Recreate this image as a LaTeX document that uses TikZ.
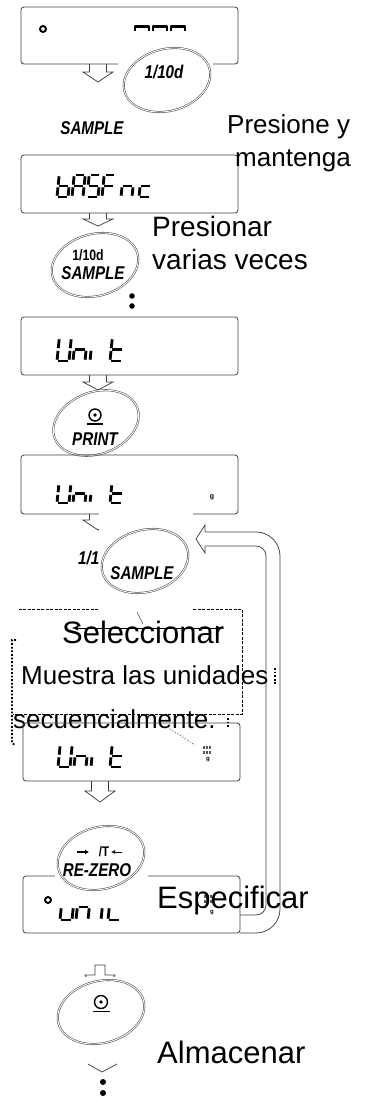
\documentclass[tikz,border=0pt]{standalone}
\usepackage{fontspec}
\setmainfont{Liberation Sans}
\newfontfamily\keyfont[FakeStretch=0.82]{Liberation Sans}
\usetikzlibrary{shapes.geometric,arrows.meta}

\newcommand\sdig[5]{%
  \begin{scope}[shift={(#1,#2)},x=1pt,y=1pt,xslant=0.1]
    \pgfmathsetmacro\dW{#3}\pgfmathsetmacro\dH{#4}\pgfmathsetmacro\dM{#4/2}\def\dG{1.3}%
    \foreach \s in {#5}{%
      \if\s a\draw[seg] (\dG,\dH)--(\dW-\dG,\dH);\fi
      \if\s b\draw[seg] (\dW,\dH-\dG)--(\dW,\dM+\dG);\fi
      \if\s c\draw[seg] (\dW,\dM-\dG)--(\dW,\dG);\fi
      \if\s d\draw[seg] (\dG,0)--(\dW-\dG,0);\fi
      \if\s e\draw[seg] (0,\dG)--(0,\dM-\dG);\fi
      \if\s f\draw[seg] (0,\dM+\dG)--(0,\dH-\dG);\fi
      \if\s g\draw[seg] (\dG,\dM)--(\dW-\dG,\dM);\fi
    }%
  \end{scope}}
\newcommand\harrow[4]{%
  \draw[hollow] (#1-8.5,#2)--(#1-8.5,#2+#3)--(#1-15,#2+#3)--(#1,#2+#4)--(#1+15,#2+#3)--(#1+8.5,#2+#3)--(#1+8.5,#2);}
\newcommand\umarks[2]{%
  \foreach \i in {0,3,6}{\fill[black!65] (#1+\i,#2) rectangle ++(2,3); \fill[black!65] (#1+\i,#2+4.5) rectangle ++(2,3);}}
\newcommand\unitsym[3]{% x y r
  \draw[line width=1.4pt] (#1,#2) circle[radius=#3 pt];
  \fill (#1,#2) circle[radius=1.9pt];
  \draw[line width=1.3pt] (#1-#3-2,#2+#3+3)--(#1+#3+2,#2+#3+3);}

\begin{document}
\begin{tikzpicture}[x=1pt,y=-1pt,
  disp/.style={rectangle, draw=black!75, line width=0.8pt, rounded corners=3pt, inner sep=0pt, minimum width=217pt},
  seg/.style={line width=2.8pt, line cap=butt, black},
  hollow/.style={draw=black!75, line width=0.75pt},
  keyell/.style={ellipse, draw=black!70, line width=0.55pt, double=white, double distance=0.9pt, fill=white, inner sep=0pt, minimum width=88pt, minimum height=62pt},
  keytxt/.style={font=\keyfont\bfseries\itshape\fontsize{18.5}{18.5}\selectfont, inner sep=0pt},
  mask/.style={fill=white, draw=none},
  lbla/.style={font=\fontsize{26}{30}\selectfont, inner sep=0pt, anchor=base west},
  lblb/.style={font=\fontsize{28}{32}\selectfont, inner sep=0pt, anchor=base west},
  lblc/.style={font=\fontsize{31}{35}\selectfont, inner sep=0pt, anchor=base west},
  dashA/.style={line width=0.8pt, dash pattern=on 3pt off 1.5pt},
  dotB/.style={line width=1.8pt, dash pattern=on 1.8pt off 1.8pt}]
\useasboundingbox (0,0) rectangle (366,1097);
\fill[white] (0,0) rectangle (366,1097);

% ---------- displays ----------
\node[disp, minimum height=57pt] (d1) at (129.5,35.5) {};
\draw[line width=1.9pt] (43,29) circle[radius=3pt];
\foreach \cx in {135,153,171}{\draw[seg, line join=round] (\cx,31)--(\cx,26.4)--(\cx+14,26.4)--(\cx+14,31);}

\node[disp, minimum height=58pt] (d2) at (129.5,184) {};
\sdig{57}{197}{11}{22}{f,e,d,c,g}
\sdig{72}{197}{11}{22}{a,b,c,e,f,g}
\sdig{87}{197}{11}{22}{a,f,g,c,d}
\sdig{102}{197}{11}{22}{a,f,e,g}
\sdig{121}{197}{11}{22}{g,e,c}
\sdig{139}{197}{11}{22}{g,e,d}

\node[disp, minimum height=58pt] (d3) at (129.5,346) {};
\sdig{57}{361}{12}{23}{b,c,d,e,f}
\sdig{73}{361}{12}{23}{g,e,c}
\sdig{90}{361}{12}{23}{e}
\sdig{110}{361}{12}{23}{f,e,d,g}

% ---------- arrows 1-3 ----------
\coordinate (a1) at (98,64);
\harrow{98}{64}{8}{18}
\coordinate (a2) at (98,213);
\harrow{98}{213}{6}{13}
\coordinate (a3) at (98,375);
\harrow{98}{375}{7}{15}

% ---------- key 1 ----------
\fill[mask] (118,50) rectangle (213,117);
\node[keyell, rotate=15] (k1) at (167,80) {};
\node[keytxt] (k1t) at (164,72) {1/10d};
\node[keytxt] (s1) at (92,128) {SAMPLE};

% ---------- key 2 ----------
\node[keyell, rotate=15] (k2) at (95,265) {};
\node[keytxt, font=\keyfont\bfseries\fontsize{15}{15}\selectfont] (k2a) at (88,255) {1/10d};
\node[keytxt] (k2b) at (93,273) {SAMPLE};
\fill (132,296) circle[radius=2.8pt];
\fill (132,306) circle[radius=2.8pt];

% ---------- key 3 ----------
\node[keyell, rotate=20] (k3) at (96,423) {};
\unitsym{95}{415}{6}
\node[keytxt] (k3t) at (95,439) {PRINT};

\node[disp, minimum height=59pt] (d4) at (129.5,484.5) {};
\sdig{57}{503}{12}{19}{b,c,d,e,f}
\sdig{73}{503}{12}{19}{g,e,c}
\sdig{90}{503}{12}{19}{e}
\sdig{110}{503}{12}{19}{f,e,d,g}
\node[inner sep=0pt, font=\bfseries\fontsize{7}{7}\selectfont] (g4) at (212,497) {g};

% ---------- key 4 ----------
\coordinate (a4) at (98,514);
\harrow{98}{514}{6}{16}
\node[keytxt, anchor=base west] (k4a) at (78,564) {1/10d};
\fill[mask] (99,508) rectangle (193,611);
\node[keyell, rotate=15] (k4) at (145,561) {};
\node[keytxt] (k4b) at (142,573) {SAMPLE};
\draw[black!70, line width=0.5pt] (137,612)--(143,624);

% ---------- selection boxes ----------
\draw[dashA] (98,609)--(17,609);
\draw[dashA] (193,609)--(242,609)--(242,714)--(13,714);
\draw[dotB] (16,640)--(12,640)--(12,743)--(15,745);
\draw[dotB] (275,668)--(275,684);
\draw[dotB] (228,718)--(228,728);
\draw[line width=0.5pt, {Latex[length=6pt,width=5pt]}-{Latex[length=6pt,width=5pt]}] (72,628)--(222,628);
\node[lblc] (t5) at (62,643) {Seleccionar};
\node[lbla] (t6) at (21,684) {Muestra las unidades};
\node[lbla] (t7) at (13,728) {secuencialmente.};

% ---------- display 5 ----------
\node[disp, minimum height=58pt] (d5) at (131.5,752) {};
\sdig{58}{767}{12}{22}{b,c,d,e,f}
\sdig{74}{767}{12}{22}{g,e,c}
\sdig{91}{767}{12}{22}{e}
\sdig{110}{767}{12}{22}{f,e,d,g}
\umarks{203}{746}
\node[inner sep=0pt, font=\bfseries\fontsize{6}{6}\selectfont] (g5) at (208,760) {g};
\draw[black!60, line width=0.6pt, dash pattern=on 1.5pt off 1.5pt] (167,727)--(195,745);
\coordinate (a5) at (100,781);
\harrow{100}{781}{10}{21}

% ---------- display 6 + key 5 ----------
\node[disp, minimum height=57pt] (d6) at (131.5,904.5) {};
\draw[line width=1.9pt] (48,900) circle[radius=3pt];
\sdig{60}{920}{12}{26}{b,c,d,e,f}
\sdig{76}{920}{12}{26}{g,e,c}
\sdig{101}{920}{12}{26}{e}
\sdig{108}{920}{12}{26}{f,e,d}
\umarks{204}{895}
\node[inner sep=0pt, font=\bfseries\fontsize{6}{6}\selectfont] (g6) at (212,913) {g};
\fill[mask] (55,815) rectangle (148,906);
\node[keyell, rotate=15] (k5) at (101,858) {};
\draw[line width=1.6pt, -{Latex[length=4pt,width=5pt]}] (77,852)--(89,852);
\node[keytxt, font=\keyfont\bfseries\fontsize{14}{14}\selectfont] (k5a) at (104,852) {/T};
\draw[line width=0.9pt, -{Latex[length=4pt,width=4pt]}] (122,852)--(111,852);
\node[keytxt] (k5b) at (97,870) {RE-ZERO};

% ---------- key 6 ----------
\draw[hollow] (87,978)--(85,975)--(95,975)--(95,965)--(105,965)--(105,975)--(115,975)--(113,978);
\fill[mask] (55,977) rectangle (148,1062);
\node[keyell, rotate=15] (k6) at (101,1012) {};
\unitsym{101}{1002}{6.5}
\draw[hollow] (88,1064)--(102,1072)--(117,1064);
\fill (103,1082) circle[radius=3pt];
\fill (103,1093) circle[radius=3pt];

% ---------- return loop ----------
\coordinate (lp0) at (240,915);
\coordinate (lp1) at (240,933);
\coordinate (tip) at (196,539);
\draw[hollow, rounded corners=10pt] (lp0) -- (266,915) -- (266,546) -- (205,546);
\draw[hollow] (205,546) -- (205,553) -- (tip) -- (205,525) -- (205,532);
\draw[hollow, rounded corners=24pt] (205,532) -- (280,532) -- (280,933) -- (lp1);

% ---------- labels ----------
\node[lbla] (t1) at (227,134) {Presione y};
\node[lbla] (t2) at (235,166) {mantenga};
\node[lblb] (t3) at (152,236) {Presionar};
\node[lblb] (t4) at (152,269) {varias veces};
\node[lblc] (t8) at (157,908) {Especificar};
\node[lblc] (t9) at (157,1063) {Almacenar};
\end{tikzpicture}
\end{document}
